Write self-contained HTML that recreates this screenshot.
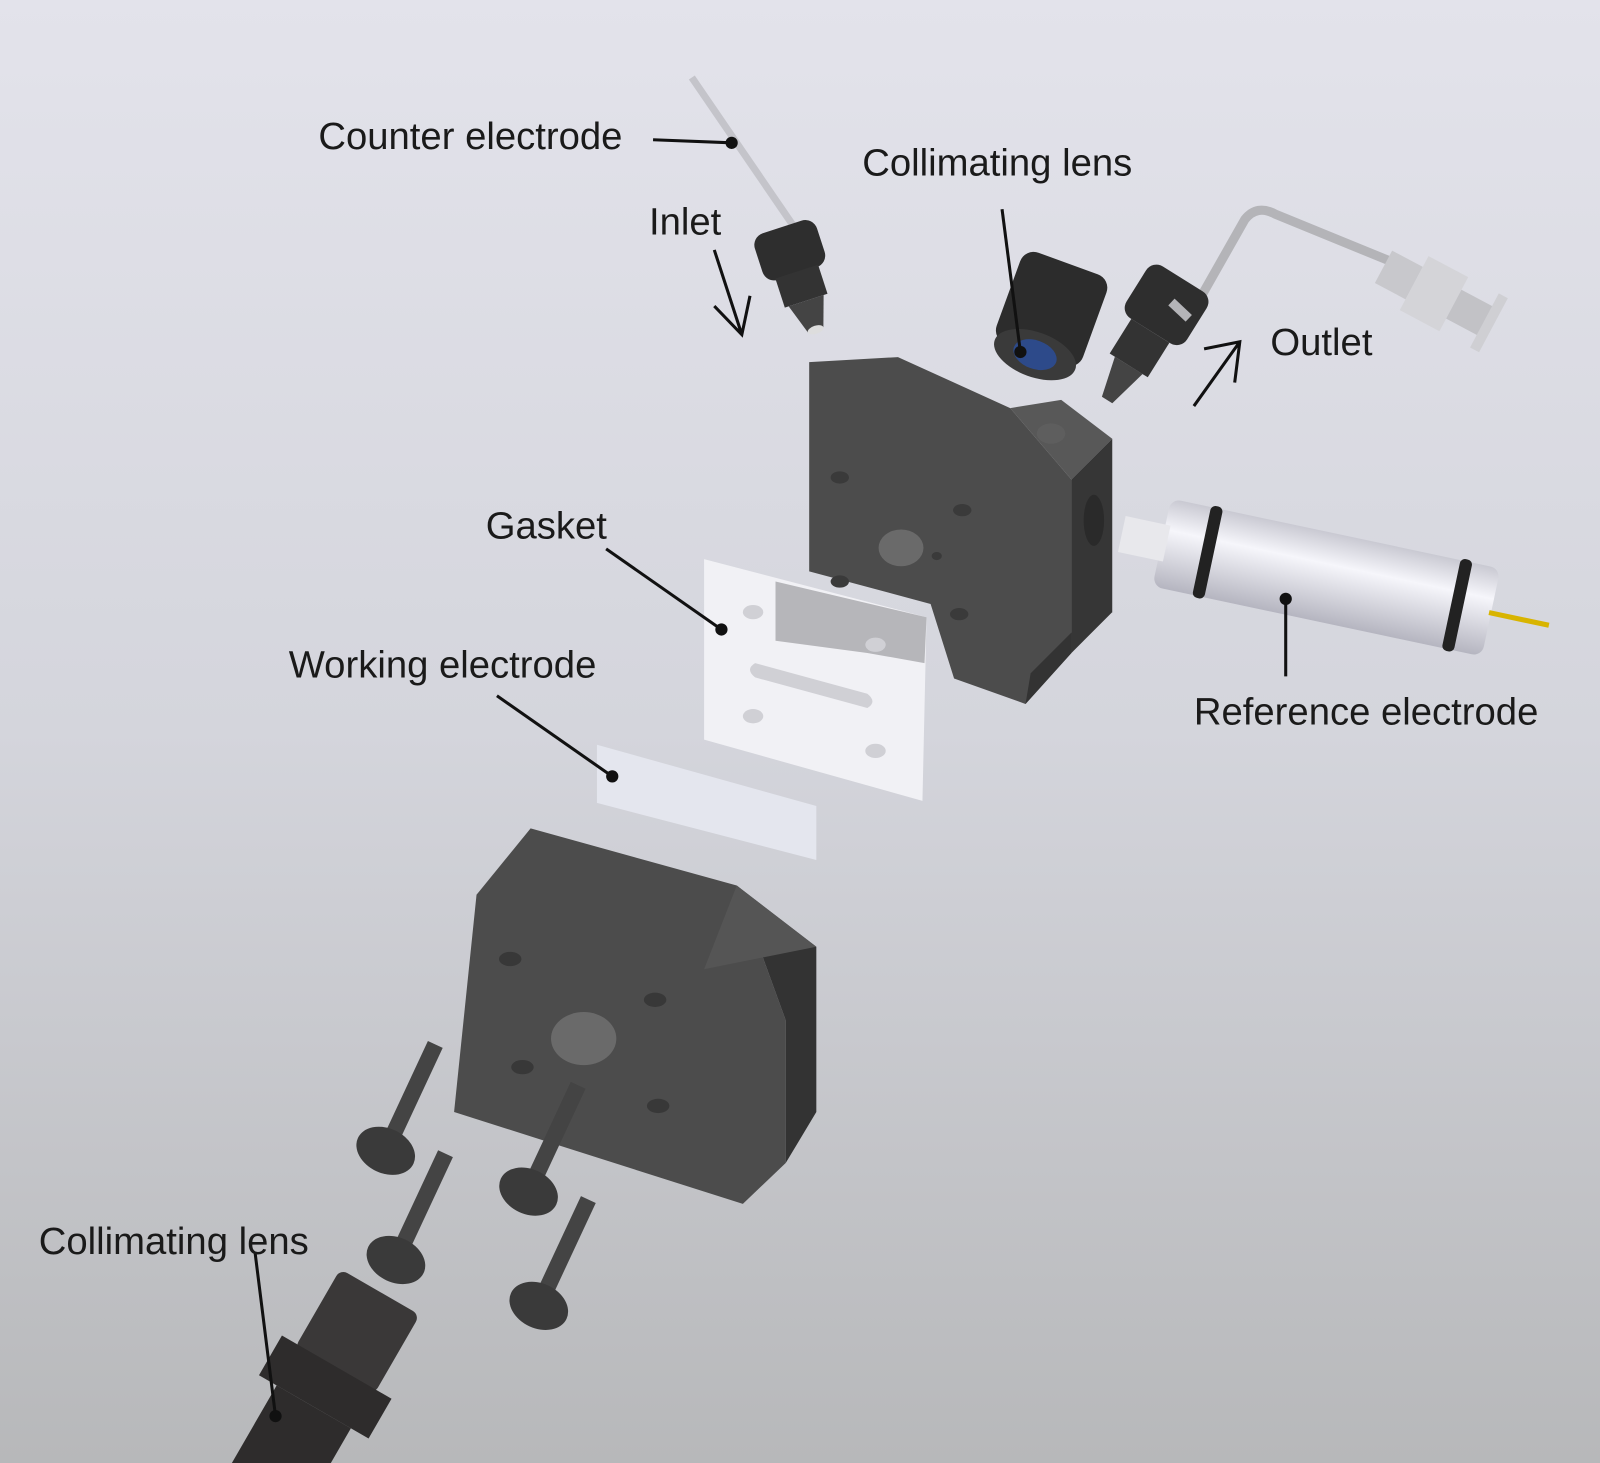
<!DOCTYPE html>
<html><head><meta charset="utf-8"><style>
html,body{margin:0;padding:0;width:1600px;height:1463px;overflow:hidden;background:#d6d7de}
svg{display:block}
text{font-family:"Liberation Sans",sans-serif;font-size:37.5px;fill:#1a1a1a}
</style></head><body>
<svg width="1600" height="1463" viewBox="0 0 1568 1434" preserveAspectRatio="none">
<defs>
<linearGradient id="bg" x1="0" y1="0" x2="0" y2="1">
<stop offset="0" stop-color="#e3e3eb"/><stop offset="0.5" stop-color="#d4d5dc"/><stop offset="1" stop-color="#b7b8ba"/>
</linearGradient>
<linearGradient id="cyl" x1="0" y1="0" x2="0" y2="1">
<stop offset="0" stop-color="#c9c9d2"/><stop offset="0.35" stop-color="#f6f6fb"/><stop offset="1" stop-color="#b5b5c0"/>
</linearGradient>
</defs>
<rect width="1568" height="1434" fill="url(#bg)"/>

<!-- counter electrode tube -->
<line x1="678" y1="76" x2="780" y2="225" stroke="#c4c4ca" stroke-width="7"/>
<g transform="translate(782,270) rotate(-18)">
<rect x="-32" y="-50" width="64" height="48" rx="12" fill="#2e2e2e"/>
<rect x="-22" y="-4" width="44" height="30" fill="#333"/>
<polygon points="-18,26 18,26 8,56 -8,56" fill="#444"/>
<ellipse cx="0" cy="56" rx="8" ry="4" fill="#ddd"/>
</g>

<!-- collimating lens top -->
<g transform="translate(1028,310) rotate(20)">
<rect x="-45" y="-55" width="90" height="95" rx="14" fill="#2c2c2c"/>
<ellipse cx="0" cy="40" rx="42" ry="22" fill="#3a3a3a"/>
<ellipse cx="0" cy="40" rx="22" ry="14" fill="#2d4a8a"/>
</g>

<!-- outlet tube -->
<path d="M1165,312 L1220,215 Q1232,200 1250,210 L1360,255" fill="none" stroke="#b4b4b8" stroke-width="9"/>
<g transform="translate(1400,285) rotate(28)">
<rect x="-50" y="-18" width="34" height="36" fill="#c8c8cc"/>
<rect x="-16" y="-30" width="44" height="60" fill="#d4d4d8"/>
<rect x="28" y="-16" width="36" height="32" fill="#c2c2c6"/>
<rect x="62" y="-30" width="10" height="60" fill="#cfcfd3"/>
</g>
<g transform="translate(1130,320) rotate(32)">
<rect x="-35" y="-55" width="70" height="60" rx="12" fill="#2e2e2e"/>
<rect x="-22" y="5" width="44" height="40" fill="#333"/>
<polygon points="-16,45 16,45 6,85 -6,85" fill="#444"/>
</g>
<line x1="1165" y1="312" x2="1148" y2="296" stroke="#b4b4b8" stroke-width="9"/>

<!-- upper block -->
<polygon points="793,355 880,350 990,400 1050,470 1050,640 1005,690 935,665 912,592 793,560" fill="#4c4c4c"/>
<polygon points="990,400 1040,392 1090,430 1050,470" fill="#585858"/>
<polygon points="1050,470 1090,430 1090,600 1050,640" fill="#363636"/>
<polygon points="1005,690 1050,640 1050,620 1010,660" fill="#333"/>
<ellipse cx="883" cy="537" rx="22" ry="18" fill="#6a6a6a"/>
<ellipse cx="1030" cy="425" rx="14" ry="10" fill="#5e5e5e"/>
<ellipse cx="1072" cy="510" rx="10" ry="25" fill="#2a2a2a"/>
<g fill="#3a3a3a">
<ellipse cx="823" cy="468" rx="9" ry="6"/><ellipse cx="943" cy="500" rx="9" ry="6"/>
<ellipse cx="823" cy="570" rx="9" ry="6"/><ellipse cx="940" cy="602" rx="9" ry="6"/>
<ellipse cx="918" cy="545" rx="5" ry="4"/>
</g>

<!-- gasket -->
<polygon points="690,548 908,605 904,785 690,725" fill="#f4f4f7" opacity="0.9"/>
<polygon points="760,570 908,605 906,650 850,640 760,628" fill="#a8a8ab" opacity="0.8"/>
<g fill="#d0d0d5">
<ellipse cx="738" cy="600" rx="10" ry="7"/><ellipse cx="858" cy="632" rx="10" ry="7"/>
<ellipse cx="738" cy="702" rx="10" ry="7"/><ellipse cx="858" cy="736" rx="10" ry="7"/>
<path d="M740,650 L850,680 Q860,688 850,694 L740,664 Q730,656 740,650Z"/>
</g>

<!-- working electrode -->
<polygon points="585,730 800,790 800,843 585,787" fill="#e4e6ee"/>

<!-- reference electrode -->
<g transform="translate(1295,565) rotate(12)">
<rect x="-160" y="-44" width="330" height="88" rx="10" fill="url(#cyl)"/>
<rect x="-120" y="-46" width="12" height="92" rx="5" fill="#222"/>
<rect x="130" y="-46" width="12" height="92" rx="5" fill="#222"/>
<rect x="-200" y="-18" width="45" height="36" fill="#e8e8ec"/>
<rect x="168" y="-2" width="60" height="5" fill="#d8b400"/>
</g>

<!-- lower block -->
<polygon points="467,877 520,812 722,868 770,1000 770,1140 728,1180 445,1090" fill="#4c4c4c"/>
<polygon points="722,868 800,928 800,1090 770,1140 770,1000" fill="#333"/>
<polygon points="690,950 722,868 800,928" fill="#555"/>
<ellipse cx="572" cy="1018" rx="32" ry="26" fill="#6a6a6a"/>
<g fill="#383838">
<ellipse cx="500" cy="940" rx="11" ry="7"/><ellipse cx="642" cy="980" rx="11" ry="7"/>
<ellipse cx="512" cy="1046" rx="11" ry="7"/><ellipse cx="645" cy="1084" rx="11" ry="7"/>
</g>

<!-- screws -->
<g fill="#3a3a3a">
<g transform="translate(378,1128) rotate(25)"><rect x="-8" y="-115" width="16" height="100" fill="#444"/><ellipse cx="0" cy="0" rx="30" ry="22"/></g>
<g transform="translate(518,1168) rotate(25)"><rect x="-8" y="-115" width="16" height="100" fill="#444"/><ellipse cx="0" cy="0" rx="30" ry="22"/></g>
<g transform="translate(388,1235) rotate(25)"><rect x="-8" y="-115" width="16" height="100" fill="#444"/><ellipse cx="0" cy="0" rx="30" ry="22"/></g>
<g transform="translate(528,1280) rotate(25)"><rect x="-8" y="-115" width="16" height="100" fill="#444"/><ellipse cx="0" cy="0" rx="30" ry="22"/></g>
</g>

<!-- bottom collimating lens -->
<g transform="translate(330,1340) rotate(30)">
<rect x="-45" y="-85" width="90" height="90" rx="8" fill="#3a3838"/>
<rect x="-62" y="0" width="124" height="45" fill="#2e2c2c"/>
<rect x="-42" y="45" width="84" height="100" fill="#2e2c2c"/>
</g>

<!-- leaders -->
<g stroke="#111" stroke-width="3" fill="none">
<line x1="640" y1="137" x2="717" y2="140"/>
<line x1="982" y1="205" x2="1000" y2="345"/>
<line x1="594" y1="538" x2="707" y2="617"/>
<line x1="487" y1="682" x2="600" y2="761"/>
<line x1="1260" y1="590" x2="1260" y2="663"/>
<line x1="250" y1="1228" x2="270" y2="1388"/>
<path d="M700,245 L727,328 M700,300 L727,328 L735,290"/>
<path d="M1170,398 L1215,335 M1180,342 L1215,335 L1210,375"/>
</g>
<g fill="#111">
<circle cx="717" cy="140" r="6"/><circle cx="1000" cy="345" r="6"/>
<circle cx="707" cy="617" r="6"/><circle cx="600" cy="761" r="6"/>
<circle cx="1260" cy="587" r="6"/><circle cx="270" cy="1388" r="6"/>
</g>

<text x="312" y="146">Counter electrode</text>
<text x="845" y="172">Collimating lens</text>
<text x="636" y="230">Inlet</text>
<text x="1245" y="348">Outlet</text>
<text x="476" y="528">Gasket</text>
<text x="283" y="664">Working electrode</text>
<text x="1170" y="710">Reference electrode</text>
<text x="38" y="1229">Collimating lens</text>
</svg>
</body></html>
